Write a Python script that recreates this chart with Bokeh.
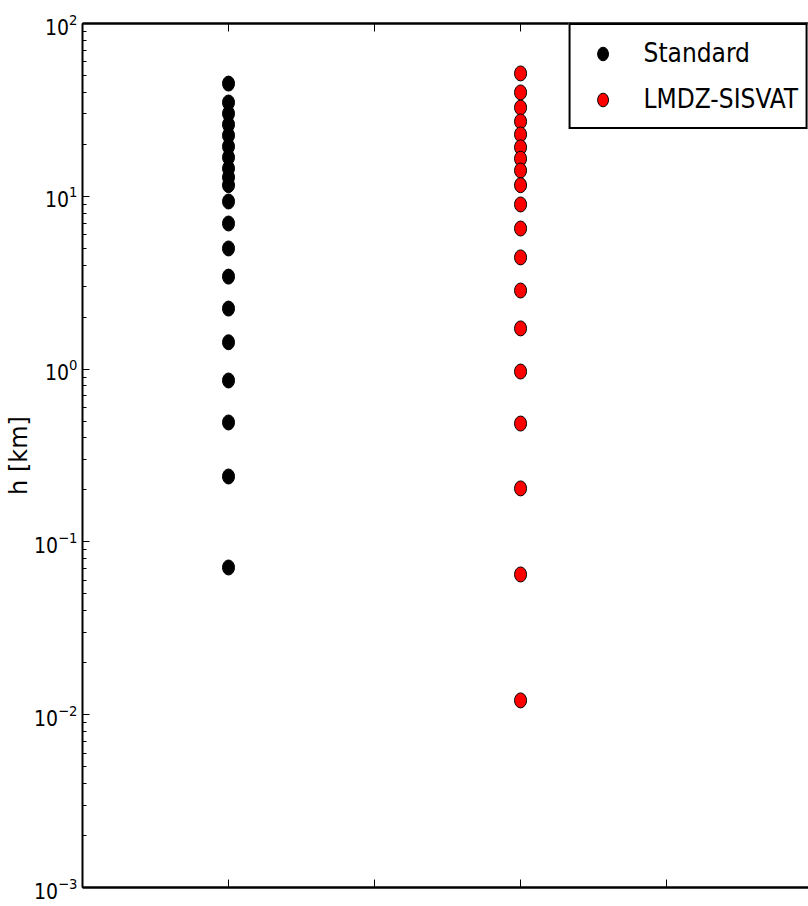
from bokeh.plotting import figure
from bokeh.models import (Range1d, LinearAxis, LogAxis, FixedTicker, LogTicker,
                          Legend, LegendItem, ColumnDataSource, Grid,
                          CustomLabelingPolicy)
from bokeh.embed import file_html
from bokeh.resources import INLINE

# ---- data ----
categories = ["Standard", "LMDZ-SISVAT"]
category_x = [1.0, 2.0]
standard_h = [44.9, 34.9, 30.1, 26.0, 22.5, 19.4, 16.8, 14.5, 12.9, 11.6, 9.33,
              6.96, 4.99, 3.43, 2.24, 1.43, 0.859, 0.491, 0.239, 0.0711]
lmdz_h = [51.4, 39.9, 32.6, 27.1, 22.8, 19.2, 16.5, 14.1, 11.6, 8.97, 6.51,
          4.43, 2.85, 1.72, 0.968, 0.484, 0.204, 0.0648, 0.0121]
x_ticks = [1.0, 1.5, 2.0, 2.5]
y_label = "h [km]"

FONT = "'DejaVu Sans Condensed', 'DejaVu Sans'"

p = figure(width=808, height=906, output_backend="svg", toolbar_location=None,
           x_range=Range1d(0.5, 2.986), y_range=Range1d(1e-3, 1e2),
           y_axis_type="log", x_axis_location=None, y_axis_location=None,
           min_border_left=82, min_border_right=0, min_border_top=23,
           min_border_bottom=19)
p.outline_line_color = None
p.background_fill_color = "white"
p.border_fill_color = "white"
p.center = [r for r in p.center if not isinstance(r, Grid)]

src_s = ColumnDataSource(dict(x=[category_x[0]] * len(standard_h), y=standard_h))
src_l = ColumnDataSource(dict(x=[category_x[1]] * len(lmdz_h), y=lmdz_h))

r1 = p.ellipse(x="x", y="y", width=12, height=15, width_units="screen",
               height_units="screen", fill_color="black", line_color="black",
               line_width=1, source=src_s)
r2 = p.ellipse(x="x", y="y", width=12, height=15, width_units="screen",
               height_units="screen", fill_color="#ff0000", line_color="black",
               line_width=1, source=src_l)

# left log axis
yax = LogAxis(ticker=LogTicker(num_minor_ticks=10), axis_label=y_label)
yax.major_tick_in = 7
yax.major_tick_out = 0
yax.minor_tick_in = 4
yax.minor_tick_out = 0
yax.axis_line_width = 2
yax.major_tick_line_width = 1
yax.major_label_text_font = FONT
yax.major_label_text_font_size = "21px"
yax.major_label_text_color = "black"
yax.major_label_standoff = 5
yax.axis_label_text_font = "DejaVu Sans"
yax.axis_label_text_font_size = "24px"
yax.axis_label_text_font_style = "normal"
yax.axis_label_text_color = "black"
yax.axis_label_standoff = -2
p.add_layout(yax, "left")

no_labels = CustomLabelingPolicy(code="""
try { for (const i of Array.from(indices)) indices.unset(i); } catch (e) {}
return indices;
""")

for loc in ("below", "above"):
    ax = LinearAxis(ticker=FixedTicker(ticks=x_ticks))
    ax.major_label_policy = no_labels
    ax.major_label_text_font_size = "1px"
    ax.major_label_standoff = 0
    ax.major_tick_in = 8
    ax.major_tick_out = 0
    ax.minor_tick_in = 0
    ax.minor_tick_out = 0
    ax.axis_line_width = 2.5
    ax.major_tick_line_width = 1
    p.add_layout(ax, loc)

legend = Legend(items=[LegendItem(label=categories[0], renderers=[r1]),
                       LegendItem(label=categories[1], renderers=[r2])],
                location="top_right", margin=0, padding=8, spacing=6,
                glyph_width=48, glyph_height=17, label_height=40,
                label_width=147, label_standoff=17,
                label_text_font=FONT, label_text_font_size="26px",
                label_text_color="black",
                border_line_color="black", border_line_width=2,
                border_line_alpha=1.0, background_fill_alpha=1)
p.add_layout(legend)

open("out.html", "w").write(file_html(p, INLINE))
